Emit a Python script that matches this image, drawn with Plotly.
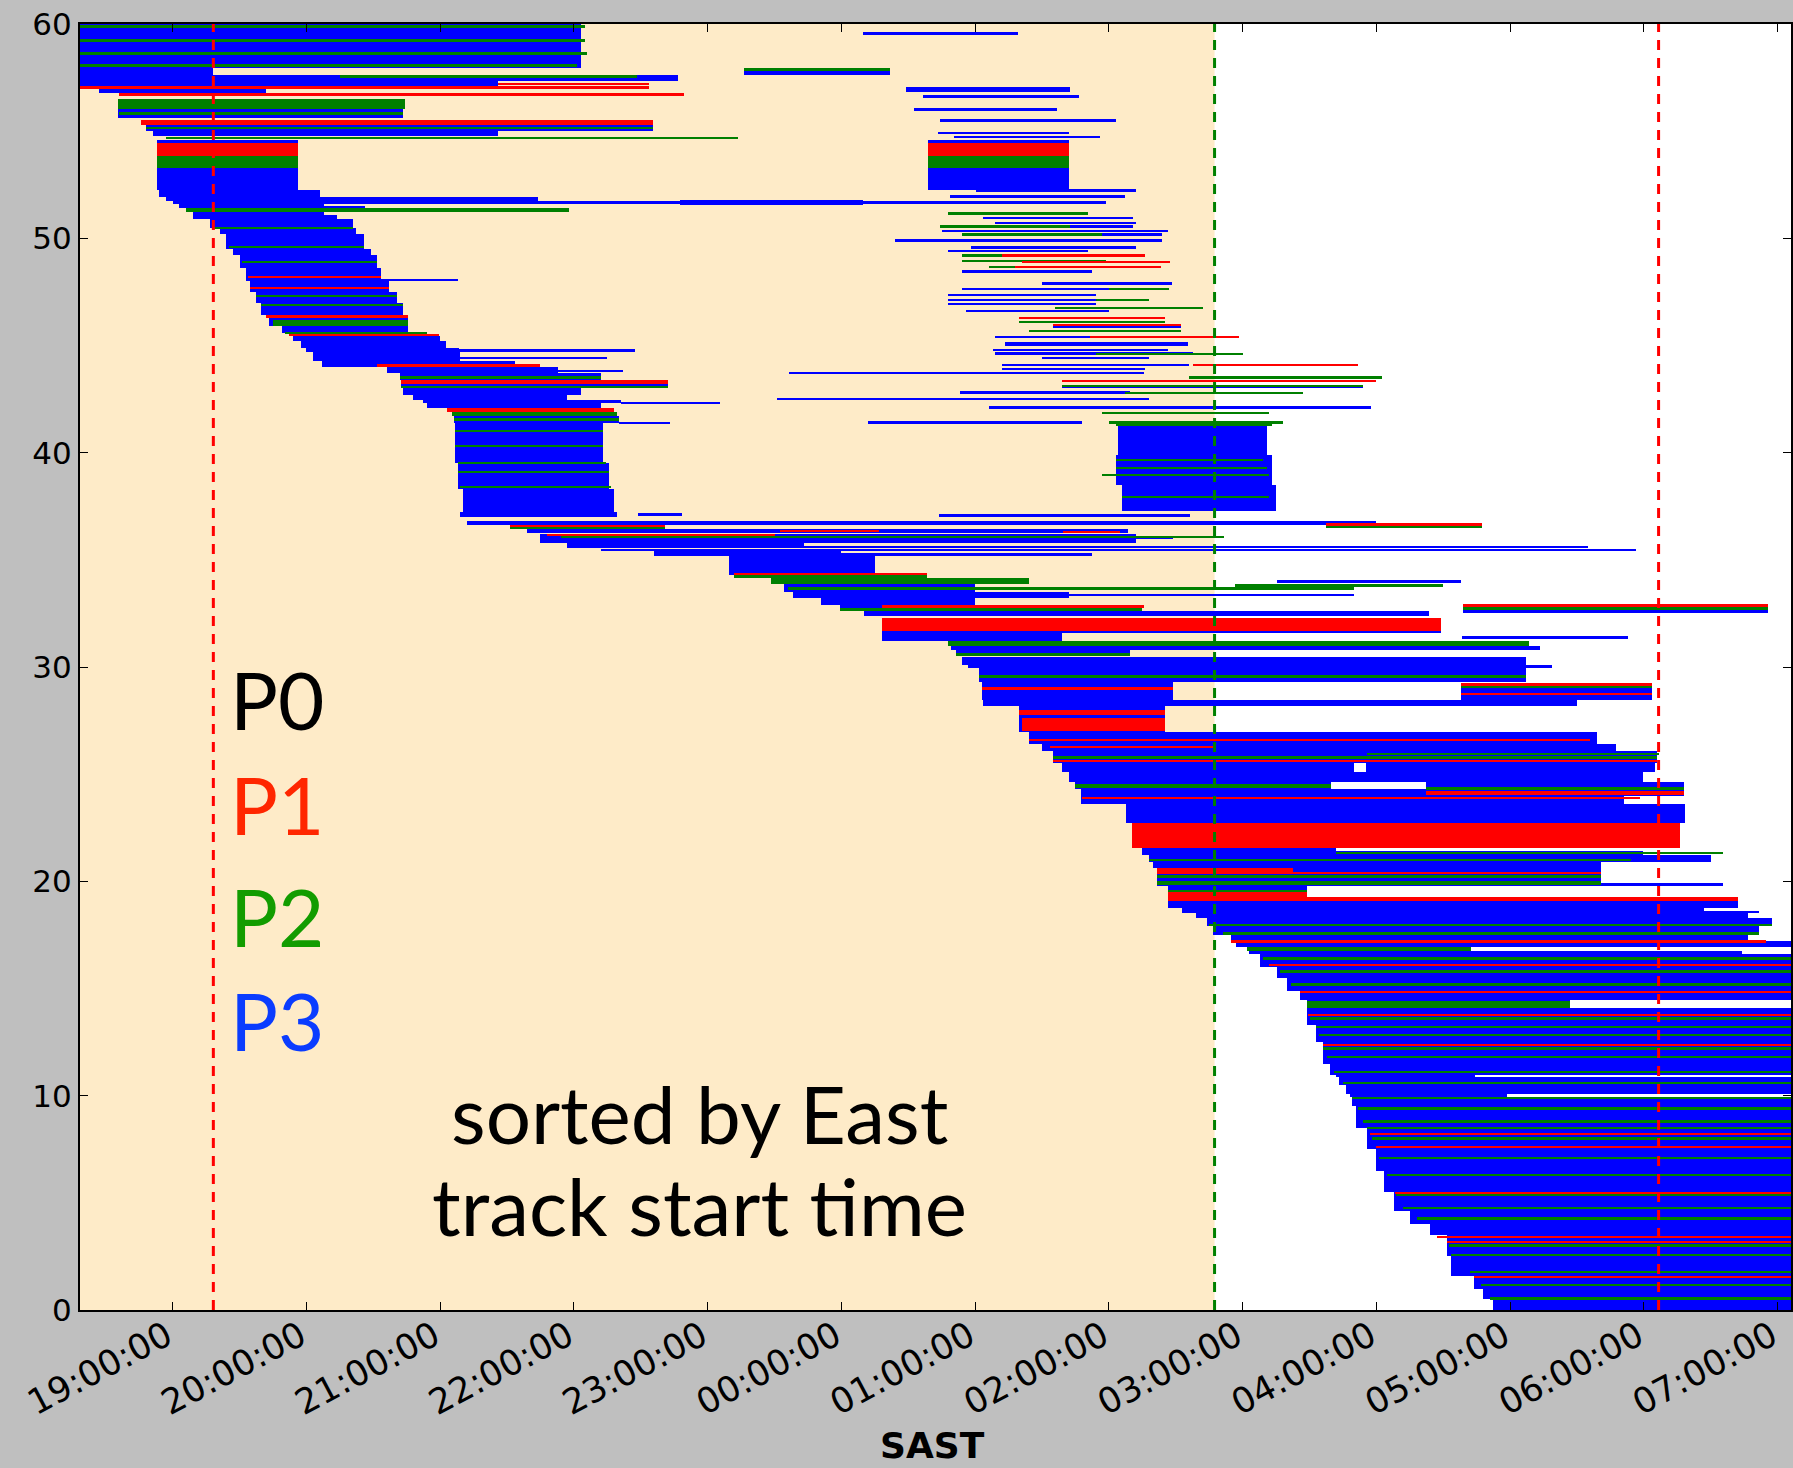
import plotly.graph_objects as go

# ---------------- axis / annotation values ----------------
X_RANGE = [18.307, 31.10]          # hours after midnight of the first day (25 = 01:00)
Y_RANGE = [0, 60]
TICK_HOURS = [19, 20, 21, 22, 23, 24, 25, 26, 27, 28, 29, 30, 31]
TICK_LABELS = ["19:00:00", "20:00:00", "21:00:00", "22:00:00", "23:00:00", "00:00:00",
               "01:00:00", "02:00:00", "03:00:00", "04:00:00", "05:00:00", "06:00:00", "07:00:00"]
Y_TICKS = [0, 10, 20, 30, 40, 50, 60]
NIGHT_END = 26.79                  # end of shaded (dark) interval
RED_MARKS = [19.304, 30.11]        # red dashed verticals
GREEN_MARK = 26.79                 # green dashed vertical

# ---------------- track segments: (y_low, y_high, start_hour, end_hour) ----------------
P3_TOP = [
    (57.95, 60.00, 18.31, 22.05), (57.62, 57.95, 18.31, 19.30), (57.35, 57.62, 18.31, 22.78),
    (57.10, 57.35, 18.31, 21.43), (56.80, 56.95, 18.45, 19.70), (55.60, 56.50, 18.59, 20.72),
    (55.00, 55.30, 18.80, 22.59), (54.78, 55.00, 18.85, 21.43),
    (59.50, 59.65, 24.16, 25.32), (57.60, 57.80, 23.27, 24.36), (56.85, 57.05, 24.48, 25.71),
    (56.55, 56.70, 24.61, 25.78), (55.95, 56.06, 24.54, 25.61), (55.45, 55.57, 24.74, 26.05),
    (54.85, 54.97, 24.72, 25.70), (54.66, 54.78, 24.84, 25.93),
    (54.45, 54.60, 18.88, 19.94), (52.25, 53.30, 18.88, 19.94),
    (54.45, 54.60, 24.65, 25.70), (52.25, 53.30, 24.65, 25.70),
]
P3_UPPER = [
    (51.95, 52.25, 18.90, 20.10), (52.15, 52.30, 25.01, 26.20), (51.88, 52.00, 24.81, 26.12),
    (51.75, 51.95, 18.95, 21.73), (51.60, 51.75, 19.00, 25.98), (51.55, 51.80, 22.79, 24.16),
    (51.40, 51.60, 19.05, 20.13), (51.45, 51.52, 20.05, 20.44), (51.10, 51.25, 19.15, 20.13),
    (50.88, 51.00, 25.06, 26.18), (50.66, 50.78, 25.15, 26.20), (50.50, 50.60, 25.71, 26.18),
    (50.30, 50.40, 24.75, 26.44), (50.13, 50.23, 25.95, 26.40), (49.82, 49.98, 24.40, 26.40),
    (49.52, 49.66, 24.97, 26.20), (49.34, 49.46, 24.80, 25.84), (48.38, 48.50, 24.90, 25.87),
    (47.84, 47.96, 25.50, 26.47), (47.58, 47.70, 24.90, 26.00), (47.30, 47.42, 24.80, 25.90),
    (47.06, 47.18, 24.80, 25.90), (46.88, 47.00, 24.80, 25.90), (46.54, 46.66, 24.93, 26.00),
    (45.82, 45.96, 25.58, 26.54), (45.34, 45.46, 25.15, 26.27), (45.00, 45.18, 25.22, 26.59),
    (44.74, 44.86, 25.13, 26.44), (44.58, 44.68, 25.15, 26.63), (44.35, 44.45, 25.50, 26.30),
    (44.04, 44.16, 25.20, 26.60), (43.84, 43.96, 25.20, 26.27), (43.66, 43.76, 23.61, 26.26),
    (43.04, 43.16, 25.65, 27.90), (42.74, 42.86, 24.89, 26.16), (42.44, 42.56, 23.52, 26.30),
    (42.04, 42.16, 25.10, 27.96), (41.36, 41.46, 24.20, 25.80),
    (48.00, 48.12, 19.58, 21.13), (44.72, 44.85, 20.00, 22.46), (44.38, 44.48, 20.10, 22.25),
]
P3_STAIR = [
    (50.90, 51.10, 19.15, 20.23), (50.50, 50.90, 19.28, 20.35), (50.20, 50.50, 19.35, 20.37),
    (49.50, 50.20, 19.40, 20.43), (49.20, 49.50, 19.45, 20.48), (48.60, 49.20, 19.50, 20.53),
    (48.00, 48.60, 19.55, 20.56), (47.50, 48.00, 19.58, 20.62), (47.00, 47.50, 19.62, 20.68),
    (46.40, 47.00, 19.66, 20.72), (45.90, 46.40, 19.72, 20.76), (45.60, 45.90, 19.82, 20.76),
    (45.45, 45.60, 19.87, 20.90), (45.20, 45.45, 19.90, 21.00), (44.90, 45.20, 19.96, 21.04),
    (44.70, 44.90, 20.00, 21.14), (44.30, 44.70, 20.05, 21.15), (44.00, 44.30, 20.12, 21.56),
    (43.70, 44.00, 20.60, 21.88), (43.75, 43.85, 21.88, 22.37), (43.40, 43.70, 20.70, 22.20),
    (43.00, 43.20, 20.71, 22.70), (42.70, 43.00, 20.72, 22.05), (42.45, 42.70, 20.80, 21.95),
    (42.30, 42.45, 20.87, 22.35), (42.30, 42.38, 22.35, 23.09), (42.10, 42.30, 20.90, 22.20),
    (41.40, 41.70, 21.10, 22.34), (41.35, 41.45, 22.34, 22.72),
    (39.50, 41.40, 21.11, 22.22), (38.30, 39.50, 21.13, 22.26), (37.20, 38.30, 21.17, 22.30),
    (39.90, 41.45, 26.07, 27.18), (38.50, 39.90, 26.05, 27.22), (37.30, 38.50, 26.10, 27.25),
]
P3_MIDDLE = [
    (37.00, 37.25, 21.15, 22.32), (37.05, 37.20, 22.48, 22.81), (37.00, 37.12, 24.73, 26.61),
    (36.62, 36.82, 21.20, 28.00), (36.26, 36.42, 21.65, 26.14), (35.80, 36.22, 21.75, 26.20),
    (35.95, 36.05, 26.20, 26.48), (35.55, 35.80, 21.95, 23.72), (35.58, 35.66, 23.72, 29.58),
    (35.40, 35.50, 22.20, 29.94), (35.20, 35.40, 22.60, 24.00), (35.20, 35.30, 24.00, 25.87),
    (34.30, 35.20, 23.16, 24.25),
    (33.50, 33.85, 23.57, 25.00), (33.92, 34.04, 27.26, 28.63), (33.20, 33.50, 23.64, 25.70),
    (33.30, 33.42, 25.70, 27.83), (32.90, 33.20, 23.85, 25.00), (32.60, 32.90, 23.99, 26.25),
    (32.40, 32.60, 24.17, 28.39), (32.50, 32.64, 28.65, 30.93), (31.60, 31.70, 24.30, 28.48),
    (31.20, 31.60, 24.30, 25.65), (31.30, 31.45, 28.64, 29.88), (30.80, 31.00, 24.82, 29.22),
    (30.50, 30.80, 24.86, 26.16), (30.10, 30.45, 24.90, 29.12), (29.95, 30.10, 24.95, 29.31),
    (29.30, 29.95, 25.03, 29.12), (28.45, 29.30, 25.05, 26.48), (28.45, 29.24, 28.63, 30.06),
    (28.20, 28.45, 25.06, 29.50), (26.95, 28.20, 25.33, 26.42), (26.40, 26.95, 25.40, 29.65),
    (26.10, 26.40, 25.50, 29.79), (25.50, 26.10, 25.58, 30.10), (25.10, 25.50, 25.65, 27.83),
    (25.10, 25.50, 27.92, 30.08), (24.62, 25.10, 25.70, 29.99), (24.30, 24.62, 25.75, 27.66),
    (24.00, 24.62, 28.37, 30.30), (23.60, 24.30, 25.79, 29.85), (22.70, 23.60, 26.13, 30.31),
    (21.25, 21.55, 26.25, 27.70), (21.25, 21.40, 27.70, 29.99), (20.90, 21.25, 26.30, 30.50),
    (20.62, 20.90, 26.33, 29.68), (20.00, 20.62, 26.36, 29.68),
]
P3_LOW = [
    (19.80, 20.00, 26.36, 29.68), (19.82, 19.90, 29.68, 30.59), (19.25, 19.80, 26.44, 27.48),
    (18.75, 19.25, 26.44, 30.70), (18.50, 18.75, 26.55, 30.45), (18.50, 18.62, 30.45, 30.86),
    (18.30, 18.50, 26.65, 30.78), (17.90, 18.30, 26.73, 30.96), (17.50, 17.90, 26.78, 30.86),
    (17.20, 17.50, 26.91, 30.78), (16.95, 17.20, 26.95, 31.10), (16.62, 16.75, 27.05, 30.73),
    (16.00, 16.62, 27.13, 31.10), (15.50, 16.00, 27.26, 31.10), (14.90, 15.50, 27.33, 31.10),
    (14.45, 14.90, 27.43, 31.10), (14.10, 14.45, 27.48, 29.45), (13.30, 14.10, 27.48, 31.10),
    (12.50, 13.30, 27.55, 31.10), (11.50, 12.50, 27.60, 31.10), (10.95, 11.50, 27.65, 31.10),
    (10.85, 10.95, 27.70, 28.74), (10.50, 10.85, 27.72, 31.10), (10.08, 10.50, 27.77, 31.10),
    (9.95, 10.08, 27.80, 28.98), (9.50, 9.95, 27.82, 31.10), (8.50, 9.50, 27.85, 31.10),
    (7.50, 8.50, 27.93, 31.10), (6.50, 7.50, 28.00, 31.10), (5.50, 6.50, 28.06, 31.10),
    (4.60, 5.50, 28.13, 31.10), (4.00, 4.60, 28.25, 31.10), (3.50, 4.00, 28.40, 31.10),
    (2.50, 3.50, 28.53, 31.10), (1.60, 2.50, 28.56, 31.10), (1.00, 1.60, 28.73, 31.10),
    (0.50, 1.00, 28.80, 31.10), (0.00, 0.50, 28.87, 31.10),
]

P2_UPPER = [
    (59.80, 59.95, 18.31, 22.08), (59.15, 59.30, 18.31, 22.08), (58.55, 58.70, 18.31, 22.10),
    (58.00, 58.15, 18.31, 22.02), (57.50, 57.60, 20.25, 22.47), (56.05, 56.50, 18.59, 20.74),
    (55.75, 55.90, 18.60, 20.72), (55.10, 55.20, 18.80, 22.59), (54.62, 54.75, 18.95, 23.23),
    (57.80, 57.95, 23.27, 24.36), (53.30, 53.84, 18.88, 19.94), (53.30, 53.84, 24.65, 25.70),
    (51.25, 51.40, 19.10, 21.96), (51.10, 51.22, 24.80, 25.84), (50.50, 50.60, 24.74, 25.71),
    (50.13, 50.23, 24.90, 25.95), (49.15, 49.25, 24.90, 26.00), (48.88, 48.98, 24.90, 25.98),
    (48.62, 48.72, 25.10, 25.90), (47.58, 47.68, 26.00, 26.45), (47.06, 47.16, 25.90, 26.30),
    (46.70, 46.80, 25.60, 26.70), (46.05, 46.15, 25.33, 26.42), (45.62, 45.72, 25.40, 26.54),
    (44.58, 44.66, 25.90, 27.00), (43.46, 43.56, 26.60, 28.04), (43.10, 43.18, 25.65, 27.90),
    (42.74, 42.84, 26.12, 27.45), (41.82, 41.90, 25.95, 27.20), (41.38, 41.46, 26.00, 27.30),
    (50.45, 50.55, 19.30, 20.35), (49.55, 49.65, 19.42, 20.43), (48.85, 48.95, 19.52, 20.53),
    (47.25, 47.35, 19.62, 20.68), (46.85, 46.95, 19.66, 20.72), (45.90, 46.20, 19.75, 20.76),
    (45.55, 45.62, 19.84, 20.90), (43.45, 43.60, 20.70, 22.20), (43.00, 43.10, 20.71, 22.70),
    (41.70, 41.90, 21.09, 22.32), (41.50, 41.60, 21.10, 22.34),
    (40.95, 41.05, 21.11, 22.22), (40.25, 40.35, 21.11, 22.22), (39.45, 39.55, 21.13, 22.24),
    (39.05, 39.15, 21.13, 22.26), (38.35, 38.45, 21.15, 22.28),
    (41.25, 41.45, 26.05, 27.22), (39.62, 39.70, 26.05, 27.15), (39.24, 39.32, 26.05, 27.18),
    (38.92, 39.00, 25.95, 27.20), (37.91, 37.99, 26.10, 27.20),
]
P2_MIDDLE = [
    (36.45, 36.55, 21.52, 22.68), (36.50, 36.60, 27.62, 28.79), (36.02, 36.08, 21.90, 26.86),
    (34.15, 34.28, 23.20, 24.64), (33.85, 34.15, 23.47, 25.40), (33.60, 33.72, 23.60, 27.83),
    (33.75, 33.85, 26.94, 28.50), (32.62, 32.75, 23.99, 26.25), (32.64, 32.78, 28.65, 30.93),
    (31.00, 31.20, 24.80, 29.14), (30.50, 30.65, 24.86, 26.16), (29.50, 29.65, 25.03, 29.12),
    (29.00, 29.10, 28.63, 30.06), (25.70, 25.85, 25.58, 30.10), (25.90, 26.00, 27.93, 30.11),
    (24.35, 24.55, 25.75, 27.66), (24.25, 24.40, 28.37, 30.30), (21.28, 21.36, 27.70, 30.59),
    (20.95, 21.05, 26.30, 29.90), (20.15, 20.30, 26.36, 29.68), (19.82, 20.00, 26.36, 29.68),
    (19.50, 19.60, 26.44, 27.48),
]
P2_LOW = [
    (17.90, 18.02, 26.75, 30.96), (17.51, 17.63, 26.85, 30.86), (16.34, 16.46, 27.15, 31.10),
    (15.74, 15.86, 27.28, 31.10), (15.14, 15.26, 27.36, 31.10), (14.10, 14.40, 27.48, 29.45),
    (13.54, 13.66, 27.50, 31.10), (13.14, 13.26, 27.55, 31.10), (12.77, 12.89, 27.57, 31.10),
    (12.14, 12.26, 27.60, 31.10), (11.74, 11.86, 27.63, 31.10), (11.04, 11.16, 27.68, 31.10),
    (10.54, 10.66, 27.75, 31.10), (9.84, 9.95, 27.82, 31.10), (9.35, 9.47, 27.86, 31.10),
    (8.74, 8.86, 27.90, 31.10), (8.44, 8.56, 27.93, 31.10), (7.94, 8.06, 27.97, 31.10),
    (7.04, 7.16, 28.02, 31.10), (6.24, 6.36, 28.08, 31.10), (5.31, 5.43, 28.15, 31.10),
    (4.69, 4.81, 28.20, 31.10), (4.22, 4.34, 28.30, 31.10), (2.94, 3.06, 28.54, 31.10),
    (2.50, 2.62, 28.56, 31.10), (1.72, 1.84, 28.70, 31.10), (1.10, 1.22, 28.78, 31.10),
    (0.48, 0.60, 28.85, 31.10), (16.75, 16.95, 27.03, 28.71),
]

P1_UPPER = [
    (56.95, 57.10, 18.31, 22.56), (57.15, 57.25, 21.43, 22.56), (56.65, 56.80, 18.60, 22.82),
    (55.30, 55.50, 18.76, 22.59), (53.84, 54.45, 18.88, 19.94), (53.84, 54.45, 24.65, 25.70),
    (49.15, 49.25, 25.20, 26.27), (48.88, 48.96, 25.35, 26.46), (48.62, 48.72, 25.30, 26.39),
    (46.25, 46.35, 25.33, 26.42), (45.95, 46.02, 25.58, 26.54), (45.36, 45.44, 25.86, 26.97),
    (44.04, 44.14, 26.63, 27.86), (43.28, 43.40, 25.65, 28.00),
    (48.15, 48.22, 19.56, 20.56), (47.65, 47.72, 19.58, 20.62), (46.30, 46.40, 19.70, 20.76),
    (45.45, 45.52, 19.87, 20.99), (44.00, 44.12, 20.53, 21.75), (43.20, 43.40, 20.71, 22.70),
    (41.90, 42.10, 21.05, 22.30),
]
P1_MIDDLE = [
    (36.55, 36.62, 21.52, 22.68), (36.60, 36.70, 27.62, 28.79), (36.30, 36.38, 23.54, 24.28),
    (36.28, 36.36, 25.66, 26.08), (36.14, 36.20, 21.80, 23.50),
    (34.28, 34.40, 23.20, 24.64), (32.75, 32.90, 24.30, 26.26), (32.78, 32.92, 28.65, 30.93),
    (31.70, 32.30, 24.30, 28.48), (28.95, 29.05, 25.05, 26.48), (28.70, 28.80, 28.63, 30.06),
    (29.15, 29.24, 28.63, 30.06), (27.00, 27.60, 25.35, 26.42), (27.75, 28.00, 25.33, 26.42),
    (26.55, 26.65, 25.40, 29.60), (26.20, 26.30, 25.56, 26.80), (25.55, 25.68, 25.58, 30.10),
    (24.05, 24.20, 28.37, 30.30), (23.85, 23.95, 25.80, 29.97), (21.55, 22.70, 26.17, 30.27),
    (20.45, 20.62, 26.36, 27.38), (20.35, 20.45, 26.36, 29.68), (19.25, 19.50, 26.44, 27.48),
    (19.10, 19.25, 26.44, 30.70),
]
P1_LOW = [
    (17.12, 17.26, 26.91, 30.91), (16.05, 16.15, 27.20, 31.10), (14.80, 14.90, 27.43, 31.10),
    (13.71, 13.81, 27.49, 31.10), (12.30, 12.40, 27.60, 31.10), (8.15, 8.25, 27.95, 31.10),
    (7.55, 7.65, 28.00, 31.10), (5.39, 5.49, 28.14, 31.10), (3.37, 3.47, 28.45, 31.10),
    (3.14, 3.24, 28.53, 31.10), (1.50, 1.60, 28.73, 31.10),
]

BLUE = "#0000ff"
GREEN = "#008000"
RED = "#ff0000"

fig = go.Figure()


def add_tracks(blocks, color):
    fig.add_trace(go.Bar(
        orientation="h",
        y=[(a + b) / 2 for a, b, _, _ in blocks],
        width=[b - a for a, b, _, _ in blocks],
        base=[s for _, _, s, _ in blocks],
        x=[e - s for _, _, s, e in blocks],
        marker=dict(color=color, line=dict(width=0)),
        showlegend=False, hoverinfo="skip",
    ))


add_tracks(P3_TOP + P3_UPPER + P3_STAIR + P3_MIDDLE + P3_LOW, BLUE)
add_tracks(P2_UPPER + P2_MIDDLE + P2_LOW, GREEN)
add_tracks(P1_UPPER + P1_MIDDLE + P1_LOW, RED)

# shaded night interval (background)
fig.add_shape(type="rect", xref="x", yref="y", x0=X_RANGE[0], x1=NIGHT_END, y0=Y_RANGE[0], y1=Y_RANGE[1],
              fillcolor="#feebc8", line=dict(width=0), layer="below")
for xv in RED_MARKS:
    fig.add_shape(type="line", xref="x", yref="paper", x0=xv, x1=xv, y0=0, y1=1,
                  line=dict(color="#ff0000", width=3, dash="10px,8px"), layer="above")
fig.add_shape(type="line", xref="x", yref="paper", x0=GREEN_MARK, x1=GREEN_MARK, y0=0, y1=1,
              line=dict(color="#008000", width=3, dash="10px,8px"), layer="above")

LEGEND_TEXT = [("P0", "#000000", 28.5), ("P1", "#ff2600", 23.6), ("P2", "#129c00", 18.4), ("P3", "#0a3cff", 13.55)]
for txt, col, yv in LEGEND_TEXT:
    fig.add_annotation(x=19.41, y=yv, xref="x", yref="y", text=txt, showarrow=False,
                       xanchor="left", yanchor="middle",
                       font=dict(family="Lato, Open Sans, sans-serif", size=80, color=col))

NOTE_LINES = [("sorted by East", 9.19), ("track start time", 4.90)]
for txt, yv in NOTE_LINES:
    fig.add_annotation(x=22.94, y=yv, xref="x", yref="y", text=txt,
                       showarrow=False, xanchor="center", yanchor="middle",
                       font=dict(family="Lato, Open Sans, sans-serif", size=80, color="#000000"))

fig.add_annotation(x=0.4985, y=-0.1055, xref="paper", yref="paper", text="<b>SAST</b>", showarrow=False,
                   xanchor="center", yanchor="middle",
                   font=dict(family="DejaVu Sans", size=36, color="#000000"))

fig.update_layout(
    width=1793, height=1468,
    margin=dict(l=80, r=2, t=24, b=158, autoexpand=False),
    paper_bgcolor="#bfbfbf", plot_bgcolor="#ffffff",
    barmode="overlay", bargap=0,
    font=dict(family="DejaVu Sans", size=29, color="#000000"),
    xaxis=dict(range=X_RANGE, tickvals=TICK_HOURS, ticktext=TICK_LABELS, tickangle=-28,
               automargin=False, ticklabelstandoff=-10, ticklabelshift=-6,
               showgrid=False, zeroline=False, showline=True, linecolor="#000000", linewidth=2,
               mirror="ticks", ticks="inside", ticklen=8, tickcolor="#000000",
               tickfont=dict(family="DejaVu Sans", size=35)),
    yaxis=dict(range=Y_RANGE, tickvals=Y_TICKS, showgrid=False, zeroline=False, showline=True,
               automargin=False,
               linecolor="#000000", linewidth=2, mirror="ticks", ticks="inside", ticklen=8,
               tickcolor="#000000", tickfont=dict(family="DejaVu Sans", size=31)),
)

PAGE_JS = ("document.body.style.margin='0';document.body.style.padding='0';"
           "document.body.style.overflow='hidden';document.body.style.background='#bfbfbf';"
           "document.documentElement.style.overflow='hidden';")
fig.write_html("out.html", config={"responsive": False, "displayModeBar": False}, post_script=PAGE_JS)
